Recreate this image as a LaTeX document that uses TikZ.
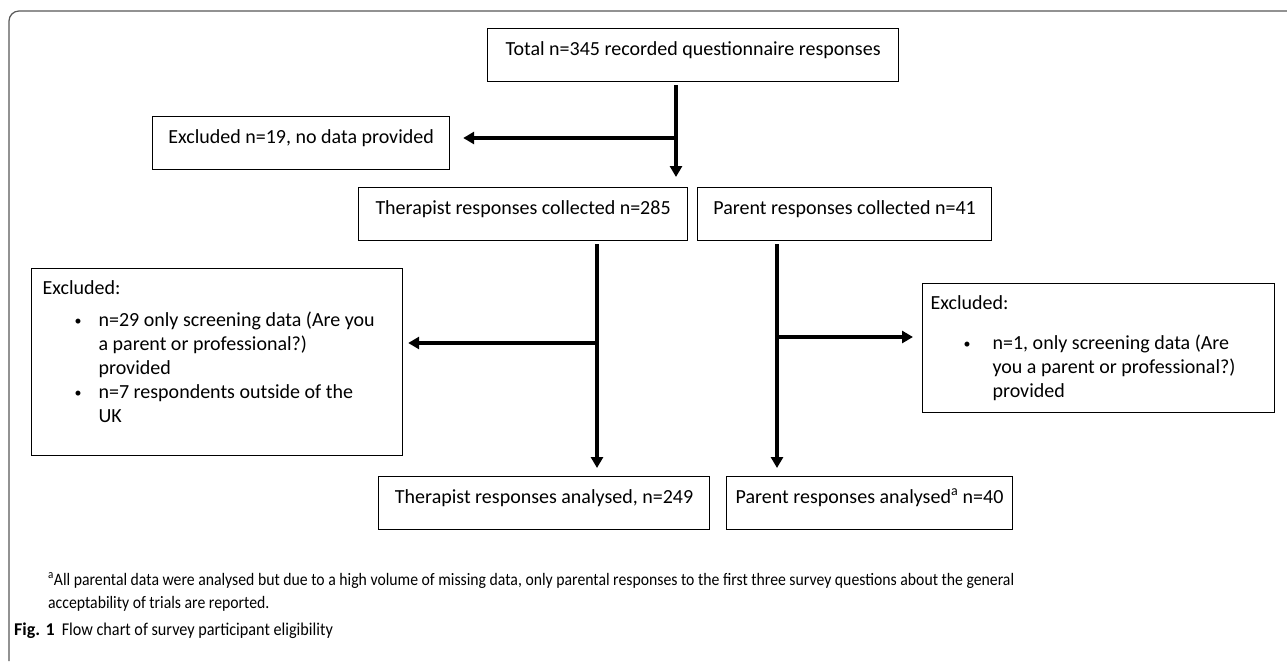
\documentclass[tikz,border=0pt]{standalone}
\usepackage{fontspec}
\setmainfont{Carlito}
\newfontfamily\notefont[FakeStretch=0.9]{Carlito}
\usetikzlibrary{arrows.meta}
\newcommand{\smbul}{{\fontsize{14}{14}\selectfont\raisebox{1.5pt}{\textbullet}}}
\begin{document}
\begin{tikzpicture}[x=1pt,y=-1pt,
  box/.style={draw, line width=1.2pt, inner sep=0pt, anchor=north west,
    font=\fontsize{20}{24}\selectfont, text height=13pt, text depth=13pt},
  exbox/.style={draw, line width=1.2pt, inner sep=0pt, anchor=north west},
  conn/.style={line width=4pt},
  arr/.style={conn, -{Triangle[width=12pt,length=11pt]}},
  framec/.style={draw=black!65, line width=1.2pt, rounded corners=10pt},
  note/.style={anchor=base west, inner sep=0pt, font=\notefont\fontsize{17.5}{23}\selectfont}
]
\fill[white] (0,0) rectangle (1287,661);
\useasboundingbox (0,0) rectangle (1287,661);
\draw[framec] (1287,11) -- (9,11) -- (9,661);

% boxes
\node[box, minimum width=411pt, minimum height=53pt] (total) at (487,28) {Total n=345 recorded questionnaire responses};
\node[box, minimum width=297pt, minimum height=53pt] (exc1) at (152,116) {Excluded n=19, no data provided};
\node[box, minimum width=329pt, minimum height=53pt] (ther) at (358,187) {Therapist responses collected n=285};
\node[box, minimum width=294pt, minimum height=53pt] (par) at (697,187) {Parent responses collected n=41};
\node[box, minimum width=331pt, minimum height=53pt] (thera) at (378,476) {Therapist responses analysed, n=249};
\node[box, minimum width=286pt, minimum height=53pt] (para) at (726,476) {Parent responses analysed\textsuperscript{a} n=40};

\node[exbox] (exc2) at (31,268) {\parbox[c][187pt][t]{371pt}{\fontsize{20}{24}\selectfont\parindent=0pt\leftskip=11pt
\vspace*{12.5pt}Excluded:\par\vspace{8pt}
\mbox{\makebox[56pt][l]{\hspace{32pt}\smbul}n=29 only screening data (Are you}\\
\mbox{\hspace*{56pt}a parent or professional?)}\\
\mbox{\hspace*{56pt}provided}\\
\mbox{\makebox[56pt][l]{\hspace{32pt}\smbul}n=7 respondents outside of the}\\
\mbox{\hspace*{56pt}UK}}};

\node[exbox] (exc3) at (922,283) {\parbox[c][129pt][t]{352pt}{\fontsize{20}{24}\selectfont\parindent=0pt\leftskip=8pt
\vspace*{12.5pt}Excluded:\par\vspace{16pt}
\mbox{\makebox[62pt][l]{\hspace{33pt}\smbul}n=1, only screening data (Are}\\
\mbox{\hspace*{62pt}you a parent or professional?)}\\
\mbox{\hspace*{62pt}provided}}};

% connectors
\coordinate (j1) at (676,138);
\draw[conn, shorten <=3pt] (total.south -| j1) -- (j1);
\draw[arr, shorten >=10pt] (j1) -- (j1 |- ther.north);
\draw[arr, shorten >=13pt] (j1) -- (exc1.east |- j1);

\coordinate (j2) at (597,343);
\draw[arr, shorten <=3pt, shorten >=8pt] (ther.south -| j2) -- (thera.north -| j2);
\draw[arr, shorten >=5pt] (j2) -- (exc2.east |- j2);

\coordinate (j3) at (777,337);
\draw[arr, shorten <=3pt, shorten >=8pt] (par.south -| j3) -- (para.north -| j3);
\draw[arr, shorten >=9pt] (j3) -- (exc3.west |- j3);

% footnote and caption
\node[note] (note1) at (48,585) {\textsuperscript{a}All parental data were analysed but due to a high volume of missing data, only parental responses to the first three survey questions about the general};
\node[note] (note2) at (48,608) {acceptability of trials are reported.};
\node[anchor=base west, inner sep=0pt, font=\fontsize{18}{18}\selectfont] (cap) at (14,635) {\textbf{Fig. 1}\hspace{7pt}{\notefont Flow chart of survey participant eligibility}};
\end{tikzpicture}
\end{document}
